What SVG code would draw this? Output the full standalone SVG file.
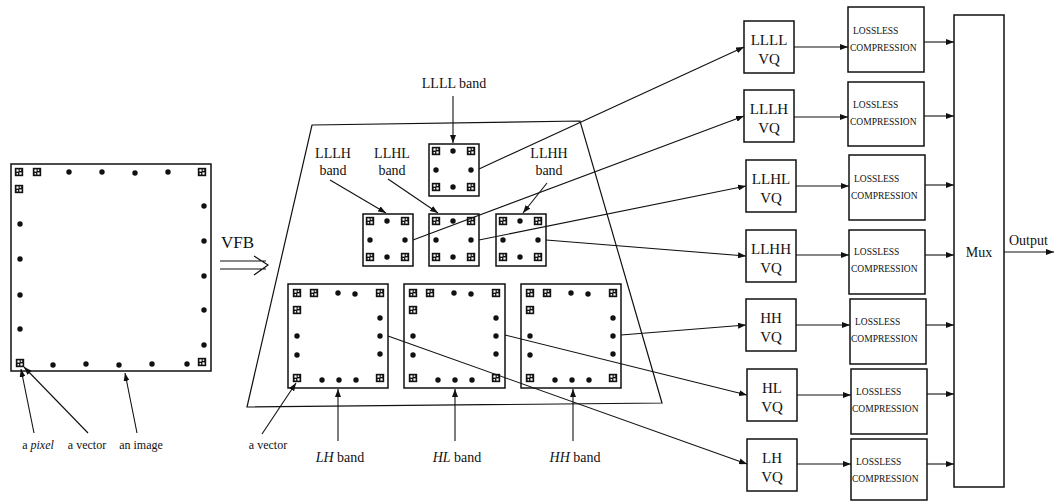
<svg xmlns="http://www.w3.org/2000/svg" xmlns:xlink="http://www.w3.org/1999/xlink" width="1054" height="501" viewBox="0 0 1054 501">
<style>
.ln{stroke:#111;stroke-width:1.2;fill:none}
.bx{stroke:#111;stroke-width:1.5;fill:#fff}
.t{font-family:"Liberation Serif","Times New Roman",serif;fill:#111}
.lbl{font-size:12px}
.bl{font-size:14px}
.vq{font-size:15px}
.ll{font-size:9.5px}
.arr{stroke:#111;stroke-width:1.1;fill:none;marker-end:url(#ah)}
</style>
<defs>
<marker id="ah" viewBox="0 0 8 6" refX="8" refY="3" markerWidth="8" markerHeight="6" markerUnits="userSpaceOnUse" orient="auto">
<path d="M0,0 L8,3 L0,6 z" fill="#111"/>
</marker>
<g id="px">
<rect x="-4.2" y="-4.2" width="8.4" height="8.4" fill="#111"/>
<rect x="-2.6" y="-2.6" width="2.2" height="2.2" fill="#fff"/>
<rect x="0.4" y="0.4" width="2.2" height="2.2" fill="#fff"/>
<rect x="0.7" y="-2.6" width="1.5" height="1.5" fill="#fff"/>
<rect x="-2.4" y="1" width="1.5" height="1.5" fill="#fff"/>
</g>
<circle id="dt" r="2.7" fill="#111"/>
<g id="smallpat">
<use href="#px" x="7" y="7"/><use href="#px" x="42" y="7"/><use href="#px" x="7" y="43"/><use href="#px" x="42" y="43"/>
<use href="#dt" x="24" y="7"/><use href="#dt" x="7" y="26"/><use href="#dt" x="42" y="26"/><use href="#dt" x="24" y="43"/>
</g>
<g id="bigpat">
<use href="#px" x="9" y="9"/><use href="#px" x="26" y="9"/><use href="#px" x="9" y="26"/><use href="#px" x="92" y="9"/><use href="#px" x="9" y="94"/><use href="#px" x="92" y="94"/>
<use href="#dt" x="50" y="9"/><use href="#dt" x="67" y="10"/><use href="#dt" x="92" y="34"/><use href="#dt" x="92" y="52"/><use href="#dt" x="92" y="70"/><use href="#dt" x="9" y="52"/><use href="#dt" x="9" y="71"/><use href="#dt" x="34" y="96"/><use href="#dt" x="51" y="96"/><use href="#dt" x="68" y="96"/>
</g>
</defs>
<rect width="1054" height="501" fill="#fff"/>

<g id="image">
<rect class="bx" x="11" y="164" width="200" height="207"/>
<use href="#px" x="19" y="172"/><use href="#px" x="37" y="172"/><use href="#px" x="19" y="189"/><use href="#px" x="202" y="172"/><use href="#px" x="20" y="363"/><use href="#px" x="202" y="362"/>
<use href="#dt" x="69" y="172"/><use href="#dt" x="102" y="172"/><use href="#dt" x="135" y="173"/><use href="#dt" x="168" y="172"/>
<use href="#dt" x="204" y="206"/><use href="#dt" x="204" y="241"/><use href="#dt" x="204" y="276"/><use href="#dt" x="204" y="310"/><use href="#dt" x="204" y="345"/>
<use href="#dt" x="20" y="224"/><use href="#dt" x="20" y="259"/><use href="#dt" x="20" y="295"/><use href="#dt" x="20" y="329"/>
<use href="#dt" x="53" y="365"/><use href="#dt" x="86" y="364"/><use href="#dt" x="119" y="365"/><use href="#dt" x="152" y="364"/><use href="#dt" x="187" y="364"/>
</g>
<g id="image-labels">
<text class="t lbl" x="38" y="449" text-anchor="middle">a <tspan font-style="italic">pixel</tspan></text>
<text class="t lbl" x="87" y="449" text-anchor="middle">a vector</text>
<text class="t lbl" x="141" y="449" text-anchor="middle">an image</text>
</g>

<g id="vfb">
<text class="t" x="221" y="248" font-size="17">VFB</text>
<path class="ln" d="M220,261 H266 M220,269 H266 M254,256 L268,265 L254,275"/>
</g>

<g id="trapezoid">
<path class="ln" d="M312,125 L580,121 L662,403 L247,407 Z"/>
</g>

<g id="llll-band">
<rect class="bx" x="429" y="144" width="50" height="52"/>
<use href="#smallpat" x="429" y="144"/>
<text class="t bl" x="454" y="88" text-anchor="middle">LLLL band</text>
</g>
<g id="lllh-band">
<rect class="bx" x="363" y="214" width="50" height="52"/>
<use href="#smallpat" x="363" y="214"/>
<text class="t bl" x="333" y="158" text-anchor="middle">LLLH</text>
<text class="t bl" x="333" y="175" text-anchor="middle">band</text>
</g>
<g id="llhl-band">
<rect class="bx" x="429" y="214" width="50" height="52"/>
<use href="#smallpat" x="429" y="214"/>
<text class="t bl" x="392" y="158" text-anchor="middle">LLHL</text>
<text class="t bl" x="392" y="175" text-anchor="middle">band</text>
</g>
<g id="llhh-band">
<rect class="bx" x="496" y="214" width="50" height="52"/>
<use href="#smallpat" x="496" y="214"/>
<text class="t bl" x="549" y="158" text-anchor="middle">LLHH</text>
<text class="t bl" x="549" y="175" text-anchor="middle">band</text>
</g>
<g id="lh-band">
<rect class="bx" x="288" y="284" width="100" height="104"/>
<use href="#bigpat" x="288" y="284"/>
<text class="t bl" x="340" y="462" text-anchor="middle"><tspan font-style="italic">LH</tspan> band</text>
<text class="t lbl" x="268" y="449" text-anchor="middle">a vector</text>
</g>
<g id="hl-band">
<rect class="bx" x="404" y="284" width="101" height="104"/>
<use href="#bigpat" x="404" y="284"/>
<text class="t bl" x="457" y="462" text-anchor="middle"><tspan font-style="italic">HL</tspan> band</text>
</g>
<g id="hh-band">
<rect class="bx" x="521" y="284" width="100" height="104"/>
<use href="#bigpat" x="521" y="284"/>
<text class="t bl" x="575" y="462" text-anchor="middle"><tspan font-style="italic">HH</tspan> band</text>
</g>

<g id="vq-llll"><rect class="bx" x="744" y="21" width="50" height="52"/><text class="t vq" x="769" y="45" text-anchor="middle">LLLL</text><text class="t vq" x="769" y="64" text-anchor="middle">VQ</text></g>
<g id="vq-lllh"><rect class="bx" x="744" y="90" width="50" height="52"/><text class="t vq" x="769" y="114" text-anchor="middle">LLLH</text><text class="t vq" x="769" y="133" text-anchor="middle">VQ</text></g>
<g id="vq-llhl"><rect class="bx" x="746" y="160" width="50" height="52"/><text class="t vq" x="771" y="184" text-anchor="middle">LLHL</text><text class="t vq" x="771" y="203" text-anchor="middle">VQ</text></g>
<g id="vq-llhh"><rect class="bx" x="746" y="230" width="50" height="52"/><text class="t vq" x="771" y="254" text-anchor="middle">LLHH</text><text class="t vq" x="771" y="273" text-anchor="middle">VQ</text></g>
<g id="vq-hh"><rect class="bx" x="746" y="299" width="50" height="52"/><text class="t vq" x="771" y="323" text-anchor="middle">HH</text><text class="t vq" x="771" y="342" text-anchor="middle">VQ</text></g>
<g id="vq-hl"><rect class="bx" x="747" y="369" width="50" height="52"/><text class="t vq" x="772" y="393" text-anchor="middle">HL</text><text class="t vq" x="772" y="412" text-anchor="middle">VQ</text></g>
<g id="vq-lh"><rect class="bx" x="747" y="439" width="50" height="52"/><text class="t vq" x="772" y="463" text-anchor="middle">LH</text><text class="t vq" x="772" y="482" text-anchor="middle">VQ</text></g>

<g id="lc-1"><rect class="bx" x="848" y="7" width="76" height="65"/><text class="t ll" x="853" y="34">LOSSLESS</text><text class="t ll" x="850" y="51">COMPRESSION</text></g>
<g id="lc-2"><rect class="bx" x="848" y="82" width="76" height="64"/><text class="t ll" x="853" y="108">LOSSLESS</text><text class="t ll" x="850" y="125">COMPRESSION</text></g>
<g id="lc-3"><rect class="bx" x="849" y="155" width="76" height="65"/><text class="t ll" x="854" y="182">LOSSLESS</text><text class="t ll" x="851" y="199">COMPRESSION</text></g>
<g id="lc-4"><rect class="bx" x="849" y="230" width="76" height="64"/><text class="t ll" x="854" y="255">LOSSLESS</text><text class="t ll" x="851" y="272">COMPRESSION</text></g>
<g id="lc-5"><rect class="bx" x="850" y="299" width="76" height="65"/><text class="t ll" x="855" y="325">LOSSLESS</text><text class="t ll" x="851" y="342">COMPRESSION</text></g>
<g id="lc-6"><rect class="bx" x="851" y="369" width="76" height="65"/><text class="t ll" x="856" y="395">LOSSLESS</text><text class="t ll" x="852" y="412">COMPRESSION</text></g>
<g id="lc-7"><rect class="bx" x="851" y="439" width="76" height="61"/><text class="t ll" x="856" y="465">LOSSLESS</text><text class="t ll" x="852" y="482">COMPRESSION</text></g>

<g id="mux"><rect class="bx" x="954" y="15" width="50" height="472"/><text class="t" x="979" y="257" font-size="14" text-anchor="middle">Mux</text></g>
<g id="output-label"><text class="t" x="1009" y="245" font-size="14">Output</text></g>

<g id="connectors">
<line class="arr" x1="34" y1="433" x2="21" y2="369"/>
<line class="arr" x1="88" y1="433" x2="24" y2="367"/>
<line class="arr" x1="137" y1="433" x2="125" y2="373"/>
<line class="arr" x1="262" y1="434" x2="296" y2="383"/>
<line class="arr" x1="338" y1="441" x2="338" y2="389"/>
<line class="arr" x1="455" y1="441" x2="455" y2="389"/>
<line class="arr" x1="573" y1="441" x2="573" y2="389"/>
<line class="arr" x1="453" y1="96" x2="453" y2="143"/>
<line class="arr" x1="330" y1="180" x2="386" y2="213"/>
<line class="arr" x1="388" y1="179" x2="438" y2="213"/>
<line class="arr" x1="547" y1="183" x2="523" y2="213"/>
<line class="arr" x1="479" y1="169" x2="744" y2="47"/>
<line class="arr" x1="413" y1="240" x2="744" y2="116"/>
<line class="arr" x1="479" y1="240" x2="746" y2="186"/>
<line class="arr" x1="546" y1="240" x2="746" y2="256"/>
<line class="arr" x1="621" y1="335" x2="746" y2="325"/>
<line class="arr" x1="505" y1="335" x2="747" y2="395"/>
<line class="arr" x1="388" y1="336" x2="747" y2="464"/>
<line class="arr" x1="794" y1="47" x2="848" y2="47"/>
<line class="arr" x1="794" y1="117" x2="848" y2="117"/>
<line class="arr" x1="796" y1="186" x2="849" y2="186"/>
<line class="arr" x1="796" y1="255" x2="849" y2="255"/>
<line class="arr" x1="796" y1="325" x2="850" y2="325"/>
<line class="arr" x1="797" y1="395" x2="851" y2="395"/>
<line class="arr" x1="797" y1="464" x2="851" y2="464"/>
<line class="arr" x1="924" y1="42" x2="954" y2="42"/>
<line class="arr" x1="924" y1="116" x2="954" y2="116"/>
<line class="arr" x1="925" y1="185" x2="954" y2="185"/>
<line class="arr" x1="925" y1="255" x2="954" y2="255"/>
<line class="arr" x1="926" y1="325" x2="954" y2="325"/>
<line class="arr" x1="927" y1="394" x2="954" y2="394"/>
<line class="arr" x1="927" y1="464" x2="954" y2="464"/>
<line class="arr" x1="1004" y1="252" x2="1054" y2="252"/>
</g>
</svg>
